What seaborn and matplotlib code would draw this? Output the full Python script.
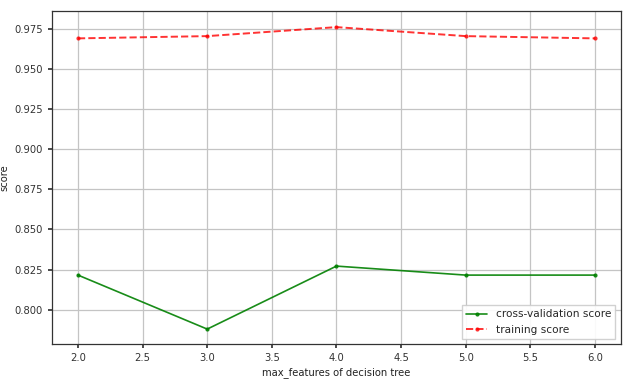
import matplotlib
matplotlib.use("Agg")
import matplotlib.pyplot as plt
import seaborn as sns
import pandas as pd

max_features = [2, 3, 4, 5, 6]
cv_scores = [0.8216, 0.7880, 0.8272, 0.8216, 0.8216]
train_scores = [0.9689, 0.9703, 0.9759, 0.9703, 0.9689]

sns.set_theme(style="ticks", rc={"axes.grid": True})
plt.rcParams['font.family'] = ['DejaVu Sans']
plt.rcParams.update({
    "grid.color": "#c4c4c4",
    "grid.linewidth": 0.9,
    "axes.edgecolor": "#333333",
    "axes.linewidth": 0.9,
    "xtick.labelsize": 7.2,
    "ytick.labelsize": 7.2,
    "axes.labelsize": 7.2,
    "legend.fontsize": 7.6,
    "xtick.major.size": 3,
    "ytick.major.size": 3,
    "xtick.color": "#333333",
    "ytick.color": "#333333",
    "axes.labelcolor": "#222222",
})

fig = plt.figure(figsize=(6.36, 3.81), dpi=100)
ax = fig.add_axes([0.082, 0.097, 0.894, 0.874])

df_cv = pd.DataFrame({"x": max_features, "y": cv_scores})
df_tr = pd.DataFrame({"x": max_features, "y": train_scores})

sns.lineplot(data=df_cv, x="x", y="y", ax=ax, color="green", marker=".",
             markersize=6, linewidth=1.2, alpha=0.9, markeredgewidth=0,
             label="cross-validation score")
sns.lineplot(data=df_tr, x="x", y="y", ax=ax, color="red", marker=".",
             markersize=6, linewidth=1.4, alpha=0.8, linestyle="--",
             markeredgewidth=0, label="training score")

ax.set_xlabel("max_features of decision tree", labelpad=3)
ax.set_ylabel("score", labelpad=4)
ax.set_xticks([2.0, 2.5, 3.0, 3.5, 4.0, 4.5, 5.0, 5.5, 6.0])
ax.set_xticklabels(["2.0", "2.5", "3.0", "3.5", "4.0", "4.5", "5.0", "5.5", "6.0"])
ax.set_yticks([0.800, 0.825, 0.850, 0.875, 0.900, 0.925, 0.950, 0.975])
ax.set_yticklabels(["0.800", "0.825", "0.850", "0.875", "0.900", "0.925", "0.950", "0.975"])
ax.set_xlim(1.8, 6.2)
ax.set_ylim(0.7787, 0.9859)
ax.grid(True)
leg = ax.legend(loc="lower right", frameon=True, fancybox=False, framealpha=0.9,
                edgecolor="#cccccc")

fig.savefig("out.png", dpi=100)
